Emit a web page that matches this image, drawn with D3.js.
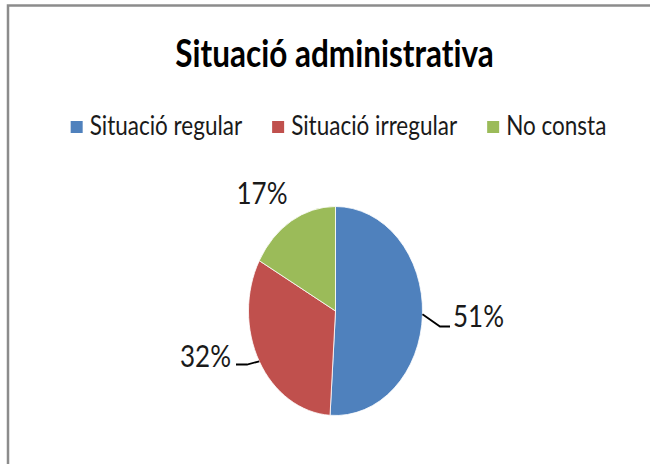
<!DOCTYPE html>
<html>
<head>
<meta charset="utf-8">
<script src="https://cdn.jsdelivr.net/npm/d3@7"></script>
<style>
  body { margin: 0; background: #fff; }
  svg { display: block; }
  text { font-family: Lato, "Open Sans", sans-serif; fill: #000; font-variant-ligatures: none; }
</style>
</head>
<body>
<script>
const w = 650;
const h = 464;

const title = "Situació administrativa";
const categories = ["Situació regular", "Situació irregular", "No consta"];
const values = [51, 32, 17];
const colors = ["#4f81bd", "#c0504d", "#9bbb59"];

// the original picture is stretched vertically, text too
const stretch = 1.2;

const cx = 335.5;
const cy = 311;
const rx = 87;
const ry = 104.5;

// where each percentage label sits and whether it gets a leader line
const labelLayout = [
  { x: 453, y: 327, anchor: "start", elbow: [440, 326.5], end: [450, 326.5] },
  { x: 231, y: 367, anchor: "end", elbow: [247, 364.5], end: [236, 364.5] },
  { x: 262, y: 204, anchor: "middle", elbow: null, end: null }
];

const data = categories.map((c, i) => ({ name: c, value: values[i], color: colors[i] }));

const svg = d3.select("body").append("svg").attr("width", w).attr("height", h);

// chart frame (only top and left edges are visible)
svg.append("rect")
  .attr("x", 8)
  .attr("y", 5.5)
  .attr("width", w + 20)
  .attr("height", h + 20)
  .attr("fill", "none")
  .attr("stroke", "#8c8c8c")
  .attr("stroke-width", 2.5);

function stretchedText(x, y, str, size, weight, anchor) {
  const g = svg.append("g").attr("transform", "translate(" + x + "," + y + ") scale(1," + stretch + ")");
  return g.append("text")
    .attr("text-anchor", anchor || "start")
    .style("font-size", size + "px")
    .style("font-weight", weight || "normal")
    .text(str);
}

stretchedText(334.5, 67, title, 31.5, "bold", "middle");

// legend
const legendY = 127;
const items = [];
categories.forEach(function (c, i) {
  const g = svg.append("g");
  g.append("rect")
    .attr("width", 12)
    .attr("height", 12)
    .attr("y", legendY - 6)
    .attr("fill", colors[i]);
  const t = g.append("g")
    .attr("transform", "translate(19," + (legendY + 8) + ") scale(1," + stretch + ")")
    .append("text")
    .style("font-size", "22.5px")
    .style("fill", "#1a1a1a")
    .text(c);
  items.push({ g: g, width: 19 + t.node().getComputedTextLength() });
});
const gap = 30;
const total = d3.sum(items, d => d.width) + gap * (items.length - 1);
let lx = 338.5 - total / 2;
items.forEach(function (it) {
  it.g.attr("transform", "translate(" + lx + ",0)");
  lx += it.width + gap;
});

// pie
const pie = d3.pie().sort(null).value(d => d.value);
const arcs = pie(data);
const arc = d3.arc().innerRadius(0).outerRadius(rx);

const pieG = svg.append("g")
  .attr("transform", "translate(" + cx + "," + cy + ") scale(1," + (ry / rx) + ")");

pieG.selectAll("path")
  .data(arcs)
  .enter()
  .append("path")
  .attr("d", arc)
  .attr("fill", d => d.data.color)
  .attr("stroke", "#fff")
  .attr("stroke-width", 0.8)
  .attr("vector-effect", "non-scaling-stroke");

// labels and leader lines
arcs.forEach(function (a, i) {
  const lay = labelLayout[i];
  const mid = (a.startAngle + a.endAngle) / 2;
  if (lay.elbow) {
    const px = cx + rx * Math.sin(mid);
    const py = cy - ry * Math.cos(mid);
    svg.append("path")
      .attr("d", d3.line()([[px, py], lay.elbow, lay.end]))
      .attr("fill", "none")
      .attr("stroke", "#000")
      .attr("stroke-width", 1.8);
  }
  const pct = Math.round(a.value / d3.sum(values) * 100) + "%";
  stretchedText(lay.x, lay.y, pct, 26, "normal", lay.anchor).style("fill", "#1a1a1a");
});
</script>
</body>
</html>
